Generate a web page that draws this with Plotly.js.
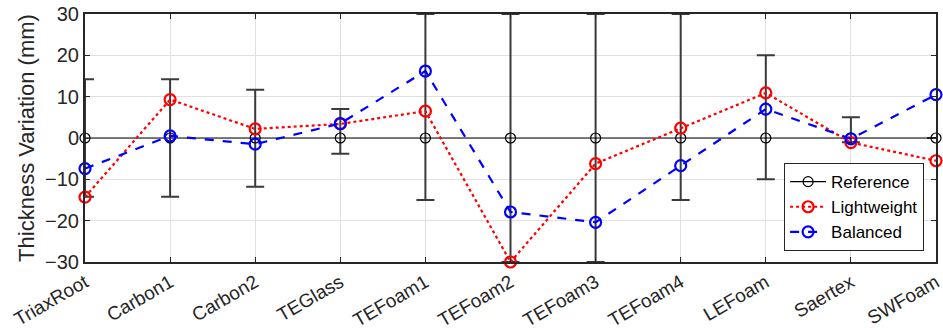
<!DOCTYPE html>
<html>
<head>
<meta charset="utf-8">
<script src="https://cdn.plot.ly/plotly-3.0.1.min.js"></script>
<style>html,body{margin:0;padding:0;background:#fff;}#chart{width:943px;height:330px;}</style>
</head>
<body>
<div id="chart"></div>
<script>
const categories = ["TriaxRoot","Carbon1","Carbon2","TEGlass","TEFoam1","TEFoam2","TEFoam3","TEFoam4","LEFoam","Saertex","SWFoam"];
const reference = [0,0,0,0,0,0,0,0,0,0,0];
const errPlus  = [14.2,14.2,11.7,7.0,30,30,30,30,20,5.0,0];
const errMinus = [14.2,14.2,11.8,3.8,15,30,30,15,10,1.0,0];
const lightweight = [-14.3,9.3,2.2,3.4,6.5,-30,-6.2,2.4,10.9,-1.1,-5.5];
const balanced = [-7.4,0.5,-1.5,3.5,16.2,-17.9,-20.4,-6.7,7.0,-0.2,10.5];
const yTicks = [-30,-20,-10,0,10,20,30];

const xIdx = categories.map((c,i)=>i+1);
const font = "Liberation Sans, Arial, Helvetica, sans-serif";

const traces = [
  {x:xIdx, y:reference, name:"Reference", mode:"lines+markers",
   line:{color:"#000000", width:1.2},
   marker:{symbol:"circle-open", size:10, color:"#000000", line:{width:1.2}},
   error_y:{type:"data", symmetric:false, array:errPlus, arrayminus:errMinus,
            color:"#3a3a3a", thickness:2, width:9},
   cliponaxis:false},
  {x:xIdx, y:lightweight, name:"Lightweight", mode:"lines+markers",
   line:{color:"#ff0000", width:2.2, dash:"dot"},
   marker:{symbol:"circle-open", size:11, color:"#ff0000", line:{width:2.2}},
   cliponaxis:false},
  {x:xIdx, y:balanced, name:"Balanced", mode:"lines+markers",
   line:{color:"#0000ff", width:2.2, dash:"dash"},
   marker:{symbol:"circle-open", size:11, color:"#0000ff", line:{width:2.2}},
   cliponaxis:false}
];

const layout = {
  width:943, height:330,
  margin:{l:84.5, r:7, t:14, b:68, pad:0},
  paper_bgcolor:"#ffffff", plot_bgcolor:"#ffffff",
  font:{family:font, size:19, color:"#262626"},
  showlegend:true,
  legend:{x:0.986, y:0.044, xanchor:"right", yanchor:"bottom",
          bgcolor:"#ffffff", bordercolor:"#262626", borderwidth:1,
          font:{family:font, size:17, color:"#000000"},
          tracegroupgap:0, itemwidth:36},
  xaxis:{range:[1,11], tickmode:"array", tickvals:xIdx, ticktext:categories,
         tickangle:-30, showgrid:true, gridcolor:"#e0e0e0", gridwidth:1,
         zeroline:false, showline:true, linecolor:"#262626", linewidth:2,
         mirror:"ticks", ticks:"inside", ticklen:5, tickcolor:"#262626",
         tickfont:{family:font, size:19, color:"#262626"}},
  yaxis:{range:[-30,30], tickmode:"array", tickvals:yTicks,
         showgrid:true, gridcolor:"#e0e0e0", gridwidth:1,
         zeroline:false, showline:true, linecolor:"#262626", linewidth:2,
         mirror:"ticks", ticks:"inside", ticklen:5, tickcolor:"#262626",
         tickfont:{family:font, size:20, color:"#262626"},
         title:{text:"Thickness Variation (mm)", font:{family:font, size:22, color:"#262626"}, standoff:4}}
};

Plotly.newPlot("chart", traces, layout, {displayModeBar:false, staticPlot:true});
</script>
</body>
</html>
